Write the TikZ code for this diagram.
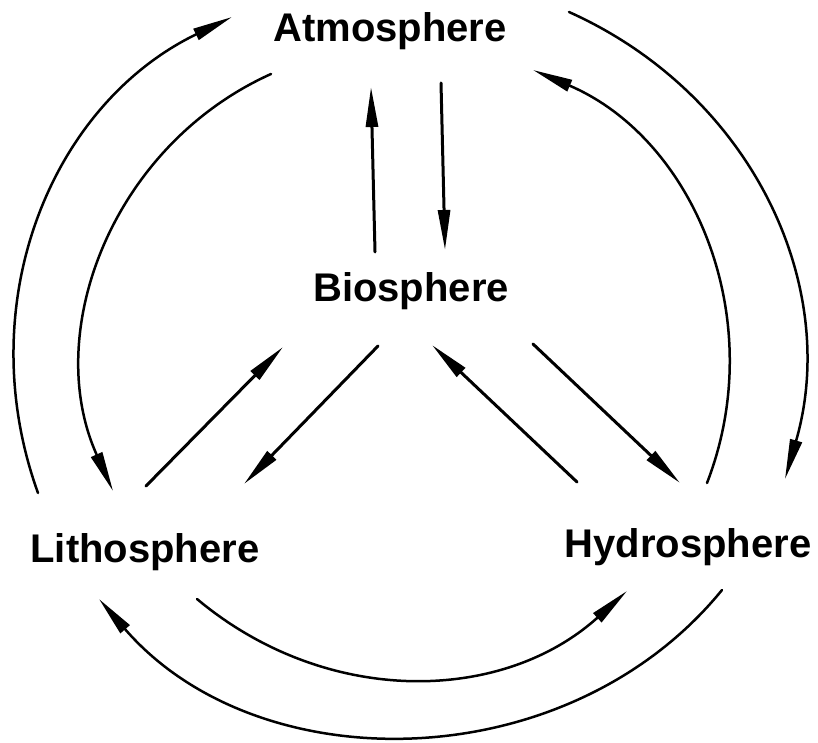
\documentclass[tikz,border=0pt]{standalone}
\usepackage{fontspec}
\setmainfont{Liberation Sans}
\usetikzlibrary{arrows.meta}
\tikzset{
  sphere/.style={font=\fontsize{40}{48}\selectfont\bfseries, inner sep=0pt, anchor=base},
  flow/.style={line width=3pt, line cap=round, -{Triangle[length=40pt,width=12pt]}},
  cycle/.style={line width=2.5pt, line cap=round, -{Triangle[length=40pt,width=12pt]}}
}
\begin{document}
\begin{tikzpicture}[x=1pt,y=1pt]
\useasboundingbox (0,0) rectangle (818,742);
% labels
\node[sphere] (atm) at (390,700) {Atmosphere};
\node[sphere] (bio) at (411,440) {Biosphere};
\node[sphere] (lith) at (145,180) {Lithosphere};
\node[sphere] (hyd) at (688,185) {Hydrosphere};
% arc end points
\coordinate (olA) at (38,249);   \coordinate (olB) at (232,725);
\coordinate (ilA) at (271,668);  \coordinate (ilB) at (113,251);
\coordinate (orA) at (569,730);  \coordinate (orB) at (785,263);
\coordinate (irA) at (707,259);  \coordinate (irB) at (533,672);
\coordinate (ibA) at (197,143);  \coordinate (ibB) at (627,151);
\coordinate (obA) at (722,152);  \coordinate (obB) at (99,143);
% straight end points
\coordinate (upA) at (375,490);  \coordinate (upB) at (371,655);
\coordinate (dnA) at (441,659);  \coordinate (dnB) at (445,492);
\coordinate (lbA) at (146,256);  \coordinate (lbB) at (283,395);
\coordinate (blA) at (378,396);  \coordinate (blB) at (244,258);
\coordinate (hbA) at (577,260);  \coordinate (hbB) at (432,397);
\coordinate (bhA) at (533,398);  \coordinate (bhB) at (680,259);
% cycles
\draw[cycle] (olA) to[bend left=42] (olB);
\draw[cycle] (ilA) to[bend right=45] (ilB);
\draw[cycle] (orA) to[bend left=41] (orB);
\draw[cycle] (irA) to[bend right=44] (irB);
\draw[cycle] (ibA) to[bend right=41] (ibB);
\draw[cycle] (obA) to[bend left=50] (obB);
% biosphere exchanges
\draw[flow] (upA) -- (upB);
\draw[flow] (dnA) -- (dnB);
\draw[flow] (lbA) -- (lbB);
\draw[flow] (blA) -- (blB);
\draw[flow] (hbA) -- (hbB);
\draw[flow] (bhA) -- (bhB);
\end{tikzpicture}
\end{document}
